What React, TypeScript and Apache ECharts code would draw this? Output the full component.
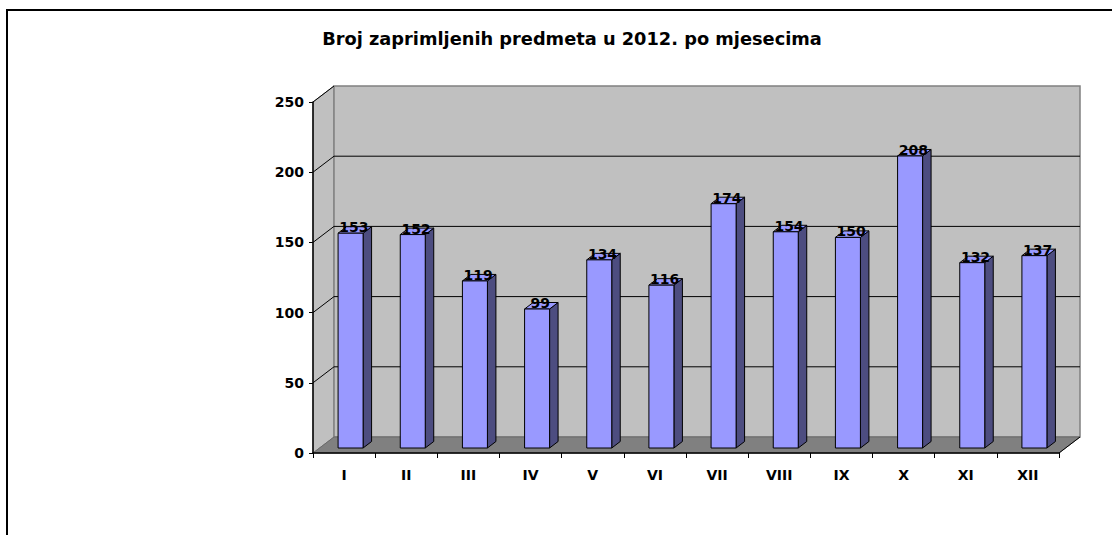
import React, { useEffect, useRef } from "react";
import * as echarts from "echarts";

const titleText = "Broj zaprimljenih predmeta u 2012. po mjesecima";
const months = ["I", "II", "III", "IV", "V", "VI", "VII", "VIII", "IX", "X", "XI", "XII"];
const counts = [153, 152, 119, 99, 134, 116, 174, 154, 150, 208, 132, 137];
const yTicks = [0, 50, 100, 150, 200, 250];

const FONT = "'DejaVu Sans', sans-serif";
const BACK_DX = 21;
const BACK_DY = -16;
const BAR_OX = 6.5;
const BAR_OY = -5;
const BAR_DX = 8.5;
const BAR_DY = -6.5;

export default function App() {
  const ref = useRef<HTMLDivElement>(null);
  useEffect(() => {
    if (!ref.current) return;
    const chart = echarts.init(ref.current, undefined, { renderer: "svg" });
    const option: any = {
      animation: false,
      backgroundColor: "#ffffff",
      title: {
        text: titleText,
        left: 567,
        top: 24,
        textAlign: "center",
        textStyle: { fontFamily: FONT, fontWeight: "bold", fontSize: 17.8, color: "#000" },
      },
      graphic: [
        {
          type: "rect",
          shape: { x: 7, y: 10, width: 1200, height: 700 },
          style: { fill: "none", stroke: "#000", lineWidth: 2 },
          z: 100,
          silent: true,
        },
      ],
      grid: { left: 313, right: 53, top: 102, bottom: 82 },
      xAxis: {
        type: "category",
        data: months,
        boundaryGap: true,
        z: 10,
        axisLine: { show: true, lineStyle: { color: "#000", width: 1.5 } },
        axisTick: { show: true, length: 5, lineStyle: { color: "#000" } },
        axisLabel: { fontFamily: FONT, fontWeight: "bold", fontSize: 14, color: "#000", margin: 15 },
        splitLine: { show: false },
      },
      yAxis: {
        type: "value",
        min: 0,
        max: 250,
        interval: 50,
        z: 10,
        axisLine: { show: true, lineStyle: { color: "#000", width: 1.5 } },
        axisTick: { show: true, length: 4, lineStyle: { color: "#000" } },
        axisLabel: { fontFamily: FONT, fontWeight: "bold", fontSize: 14, color: "#000", margin: 9 },
        splitLine: { show: false },
      },
      series: [
        {
          type: "custom",
          name: "walls",
          z: 1,
          silent: true,
          data: [0],
          renderItem: (params: any, api: any) => {
            const band = api.size([1, 0])[0];
            const c0 = api.coord([0, 0]);
            const L = c0[0] - band / 2;
            const R = L + band * months.length;
            const Y0 = c0[1];
            const Yt = api.coord([0, yTicks[yTicks.length - 1]])[1];
            const children: any[] = [];
            children.push({
              type: "polygon",
              shape: { points: [[L, Yt], [L + BACK_DX, Yt + BACK_DY], [L + BACK_DX, Y0 + BACK_DY], [L, Y0]] },
              style: { fill: "#C0C0C0", stroke: "#808080", lineWidth: 1 },
            });
            children.push({
              type: "rect",
              shape: { x: L + BACK_DX, y: Yt + BACK_DY, width: R - L, height: Y0 - Yt },
              style: { fill: "#C0C0C0", stroke: "#808080", lineWidth: 1.5 },
            });
            children.push({
              type: "polygon",
              shape: { points: [[L, Y0], [L + BACK_DX, Y0 + BACK_DY], [R + BACK_DX, Y0 + BACK_DY], [R, Y0]] },
              style: { fill: "#808080", stroke: "#6a6a6a", lineWidth: 1 },
            });
            children.push({
              type: "line",
              shape: { x1: R, y1: Y0, x2: R + BACK_DX, y2: Y0 + BACK_DY },
              style: { stroke: "#000", lineWidth: 1 },
            });
            yTicks.forEach((v) => {
              if (v === 0 || v === yTicks[yTicks.length - 1]) return;
              const y = api.coord([0, v])[1];
              children.push({
                type: "line",
                shape: { x1: L + BACK_DX, y1: y + BACK_DY, x2: R + BACK_DX, y2: y + BACK_DY },
                style: { stroke: "#000", lineWidth: 1 },
              });
            });
            yTicks.forEach((v) => {
              if (v === 0) return;
              const y = api.coord([0, v])[1];
              children.push({
                type: "line",
                shape: { x1: L, y1: y, x2: L + BACK_DX, y2: y + BACK_DY },
                style: { stroke: "#000", lineWidth: 1 },
              });
            });
            return { type: "group", children };
          },
        },
        {
          type: "custom",
          name: "Broj predmeta",
          z: 5,
          data: counts.map((v, i) => [i, v]),
          renderItem: (params: any, api: any) => {
            const i = api.value(0);
            const v = api.value(1);
            const band = api.size([1, 0])[0];
            const top = api.coord([i, v]);
            const base = api.coord([i, 0]);
            const w = band * 0.402;
            const cx = top[0] + BAR_OX;
            const xl = cx - w / 2;
            const xr = cx + w / 2;
            const yt = top[1] + BAR_OY;
            const yb = base[1] + BAR_OY;
            const stroke = { stroke: "#000", lineWidth: 1 };
            return {
              type: "group",
              children: [
                {
                  type: "polygon",
                  shape: { points: [[xr, yt], [xr + BAR_DX, yt + BAR_DY], [xr + BAR_DX, yb + BAR_DY], [xr, yb]] },
                  style: { fill: "#4D4D80", ...stroke },
                },
                {
                  type: "polygon",
                  shape: { points: [[xl, yt], [xl + BAR_DX, yt + BAR_DY], [xr + BAR_DX, yt + BAR_DY], [xr, yt]] },
                  style: { fill: "#9999FF", ...stroke },
                },
                {
                  type: "rect",
                  shape: { x: xl, y: yt, width: w, height: yb - yt },
                  style: { fill: "#9999FF", ...stroke },
                },
                {
                  type: "text",
                  x: cx + BAR_DX / 2 - 1,
                  y: yt - 6,
                  style: {
                    text: String(v),
                    fontFamily: FONT,
                    fontWeight: "bold",
                    fontSize: 14,
                    fill: "#000",
                    align: "center",
                    verticalAlign: "middle",
                  },
                },
              ],
            };
          },
        },
      ],
    };
    chart.setOption(option);
    return () => chart.dispose();
  }, []);
  return (
    <div
      ref={ref}
      style={{ position: "fixed", left: 0, top: 0, width: 1112, height: 535 }}
    />
  );
}
